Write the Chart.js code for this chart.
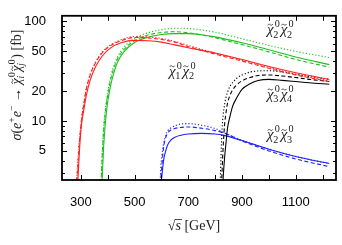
<!DOCTYPE html>
<html>
<head>
<meta charset="utf-8">
<script src="https://cdn.jsdelivr.net/npm/chart.js@4.4.0/dist/chart.umd.min.js"></script>
<style>
html, body { margin: 0; padding: 0; background: #fff; }
canvas { display: block; }
</style>
</head>
<body>
<canvas id="chart" width="342" height="245"></canvas>
<script>
// sqrt(s) in GeV, cross sections in fb: solid, dashed, dotted per channel
var redX = [285, 290, 295, 300, 305, 310, 320, 335, 355, 380, 410, 450, 500, 550, 600, 650, 700, 800, 900, 1000, 1100, 1225];
var redSolid = [1.6, 2.8, 5.0, 7.8, 10.3, 12.3, 17.8, 25.8, 35, 45, 54, 61, 64.5, 64, 62, 58.2, 54.5, 48.2, 41.5, 35.2, 30.5, 26.2];
var redDashed = [2.5, 4.0, 6.2, 8.7, 11.5, 14, 20.5, 29, 38.5, 48.5, 57, 64, 69, 68.2, 66, 62, 56, 47, 40, 33.8, 29, 24.8];
var redDotted = [2.6, 4.3, 6.5, 9.0, 12, 14.5, 21, 29.5, 39, 49.5, 58, 65.5, 70.5, 70, 67.5, 63, 57.5, 48, 40.8, 34.5, 29.5, 25.3];

var greenX = [372, 376, 380, 385, 390, 395, 400, 410, 420, 435, 460, 500, 550, 600, 650, 700, 750, 800, 900, 1000, 1100, 1225];
var greenSolid = [0.8, 1.5, 2.8, 5.5, 8.5, 12, 15.5, 22, 28.5, 38, 49.5, 61.5, 69.5, 74, 75.5, 75.5, 73.5, 70, 61, 52, 44, 36.8];
var greenDashed = [1.3, 2.5, 4.5, 8, 11.3, 14.8, 18, 25.3, 32, 41, 52, 64, 73, 77.5, 79, 77, 73, 68.5, 58.5, 49.5, 41.5, 34.7];
var greenDotted = [1.5, 2.7, 4.8, 8.5, 12, 15.8, 19.2, 27, 34, 43, 55, 67.5, 77, 82.5, 85.5, 85, 82, 78, 67, 57.5, 50, 43.4];

var blackX = [818, 822, 826, 830, 835, 840, 846, 855, 865, 880, 900, 930, 960, 1000, 1050, 1100, 1150, 1225];
var blackSolid = [0.5, 0.9, 1.6, 2.7, 4.2, 5.8, 8.4, 11, 14, 17, 20.8, 23.6, 25.5, 26.2, 25.6, 24.9, 24.2, 23.4];
var blackDashed = [0.8, 1.8, 3.2, 5.5, 9, 11.8, 15, 18, 20.5, 23, 25.3, 27.3, 28.6, 29, 28.3, 27.3, 26.2, 24.9];
var blackDotted = [2.0, 4.5, 8.5, 11.5, 14.5, 17, 19.3, 22.2, 24.3, 26.8, 28.9, 31, 31.8, 32, 31, 29.5, 28, 26.2];

var blueX = [594, 598, 602, 606, 610, 616, 624, 635, 650, 670, 700, 750, 800, 830, 900, 1000, 1100, 1225];
var blueSolid = [1.0, 2.2, 2.8, 3.6, 4.3, 5.0, 5.8, 6.4, 6.85, 7.15, 7.4, 7.5, 7.4, 7.2, 6.35, 5.2, 4.4, 3.73];
var blueDashed = [1.5, 2.6, 3.6, 4.8, 5.8, 6.8, 7.6, 8.1, 8.4, 8.6, 8.7, 8.45, 8.0, 7.6, 6.3, 5.0, 4.15, 3.47];
var blueDotted = [2.0, 3.5, 4.5, 5.5, 6.3, 7.2, 8.0, 8.5, 8.9, 9.3, 9.4, 9.05, 8.4, 7.7, 6.4, 5.2, 4.4, 3.73];

var xLabels = [300, 500, 700, 900, 1100];
var xTickMarks = [300, 400, 500, 600, 700, 800, 900, 1000, 1100, 1200];
var yLabels = [5, 10, 20, 50, 100];
var yMinorMarks = [3, 4, 6, 7, 8, 9, 30, 40, 60, 70, 80, 90];

// channel labels: [first index, second index, sqrt(s), sigma] (left edge, baseline)
var channelLabels = [
    ["2", "2", 993, 74.8],
    ["1", "2", 628, 28.6],
    ["3", "4", 993, 16.7],
    ["2", "3", 993, 6.54]
];

var serif = '"Liberation Serif", "DejaVu Serif", serif';
var RED = "#ff2020", GREEN = "#1fbf1f", BLACK = "#000000", BLUE = "#2020ff";

function pts(xs, ys) {
    var out = [];
    for (var i = 0; i < xs.length; i++) out.push({ x: xs[i], y: ys[i] });
    return out;
}

function series(xs, ys, color, dash) {
    return {
        data: pts(xs, ys),
        borderColor: color,
        borderWidth: 1.1,
        borderDash: dash,
        pointRadius: 0,
        fill: false,
        cubicInterpolationMode: "monotone",
        clip: 0
    };
}

var DASH = [4, 2.5];
var DOT = [1.2, 2];

function fnt(size, italic) {
    return (italic ? "italic " : "") + size + "px " + serif;
}

function tilde(ctx, cx, cy, w) {
    ctx.save();
    ctx.lineWidth = 0.8;
    ctx.strokeStyle = ctx.fillStyle;
    ctx.beginPath();
    ctx.moveTo(cx - w / 2, cy + 0.6);
    ctx.bezierCurveTo(cx - w / 4, cy - 1.4, cx - w / 8, cy - 0.3, cx, cy);
    ctx.bezierCurveTo(cx + w / 8, cy + 0.3, cx + w / 4, cy + 1.4, cx + w / 2, cy - 0.6);
    ctx.stroke();
    ctx.restore();
}

function drawRich(ctx, parts, x, y, size, draw) {
    var cx = x;
    parts.forEach(function(p) {
        if (p.chi) {
            ctx.font = fnt(size, true);
            var wc = ctx.measureText("χ").width;
            ctx.font = fnt(size * 0.68, false);
            var w0 = ctx.measureText("0").width;
            ctx.font = fnt(size * 0.68, p.subIt);
            var wi = ctx.measureText(p.chi).width;
            if (draw) {
                ctx.font = fnt(size, true);
                ctx.fillText("χ", cx, y);
                tilde(ctx, cx + wc * 0.5, y - size * 0.62, size * 0.34);
                ctx.font = fnt(size * 0.68, false);
                ctx.fillText("0", cx + wc + 1.2, y - size * 0.46);
                ctx.font = fnt(size * 0.68, p.subIt);
                ctx.fillText(p.chi, cx + wc - 0.3, y + size * 0.24);
            }
            cx += wc + Math.max(w0 + 1.2, wi) + 0.8;
        } else {
            var sz = p.sup ? size * 0.7 : size;
            ctx.font = fnt(sz, p.it);
            var w = ctx.measureText(p.t).width;
            if (draw) {
                ctx.fillText(p.t, cx, y + (p.sup ? -size * 0.42 : 0));
                if (p.over) {
                    ctx.fillRect(cx - 0.5, y - size * 0.78, w + 1.5, 0.8);
                }
            }
            cx += w;
        }
    });
    return cx - x;
}

var yTitle = [
    { t: "σ", it: true }, { t: "(" }, { t: "e", it: true }, { t: "+", sup: true },
    { t: "e", it: true }, { t: "−", sup: true }, { t: " → " },
    { chi: "i", subIt: true }, { chi: "j", subIt: true }, { t: ")" }, { t: " [fb]" }
];
var xTitle = [{ t: "√" }, { t: "s", it: true, over: true }, { t: " [GeV]" }];

var framePlugin = {
    id: "frame",
    afterDraw: function(chart) {
        var ctx = chart.ctx;
        var a = chart.chartArea;
        var xs = chart.scales.x, ys = chart.scales.y;
        ctx.save();
        ctx.strokeStyle = "#000";
        ctx.lineWidth = 1;
        ctx.beginPath();
        xTickMarks.forEach(function(v) {
            var px = Math.round(xs.getPixelForValue(v)) + 0.5;
            ctx.moveTo(px, a.bottom); ctx.lineTo(px, a.bottom - 5);
            ctx.moveTo(px, a.top); ctx.lineTo(px, a.top + 5);
        });
        yLabels.forEach(function(v) {
            var py = Math.round(ys.getPixelForValue(v)) + 0.5;
            ctx.moveTo(a.left, py); ctx.lineTo(a.left + 5, py);
            ctx.moveTo(a.right, py); ctx.lineTo(a.right - 5, py);
        });
        yMinorMarks.forEach(function(v) {
            var py = Math.round(ys.getPixelForValue(v)) + 0.5;
            ctx.moveTo(a.left, py); ctx.lineTo(a.left + 3, py);
            ctx.moveTo(a.right, py); ctx.lineTo(a.right - 3, py);
        });
        ctx.stroke();

        ctx.lineWidth = 1.8;
        ctx.strokeRect(a.left, a.top, a.right - a.left, a.bottom - a.top);

        ctx.fillStyle = "#222";
        ctx.textAlign = "left";
        ctx.textBaseline = "alphabetic";
        channelLabels.forEach(function(l) {
            var lx = xs.getPixelForValue(l[2]);
            var ly = ys.getPixelForValue(l[3]);
            drawRich(ctx, [{ chi: l[0] }, { chi: l[1] }], lx, ly, 15, true);
        });

        var wx = drawRich(ctx, xTitle, 0, 0, 14, false);
        drawRich(ctx, xTitle, 194 - wx / 2, 230, 14, true);

        var wy = drawRich(ctx, yTitle, 0, 0, 14, false);
        ctx.translate(21, 85);
        ctx.rotate(-Math.PI / 2);
        drawRich(ctx, yTitle, -wy / 2, 0, 14, true);
        ctx.restore();
    }
};

new Chart(document.getElementById("chart"), {
    type: "line",
    data: {
        datasets: [
            series(redX, redSolid, RED, []),
            series(redX, redDashed, RED, DASH),
            series(redX, redDotted, RED, DOT),
            series(greenX, greenSolid, GREEN, []),
            series(greenX, greenDashed, GREEN, DASH),
            series(greenX, greenDotted, GREEN, DOT),
            series(blackX, blackSolid, BLACK, []),
            series(blackX, blackDashed, BLACK, DASH),
            series(blackX, blackDotted, BLACK, DOT),
            series(blueX, blueSolid, BLUE, []),
            series(blueX, blueDashed, BLUE, DASH),
            series(blueX, blueDotted, BLUE, DOT)
        ]
    },
    options: {
        responsive: false,
        animation: false,
        devicePixelRatio: 1,
        layout: { padding: { top: 10, right: 6, left: 0, bottom: 0 } },
        plugins: { legend: { display: false }, tooltip: { enabled: false } },
        scales: {
            x: {
                type: "linear",
                min: 230,
                max: 1250,
                grid: { display: false },
                border: { display: false },
                afterBuildTicks: function(s) {
                    s.ticks = xLabels.map(function(v) { return { value: v }; });
                },
                afterFit: function(s) { s.height = 65; },
                ticks: {
                    padding: 7,
                    maxRotation: 0,
                    color: "#000",
                    font: { family: '"Liberation Sans", Arial, sans-serif', size: 13 },
                    callback: function(v) { return String(v); }
                }
            },
            y: {
                type: "logarithmic",
                min: 2.55,
                max: 114,
                grid: { display: false },
                border: { display: false },
                afterBuildTicks: function(s) {
                    s.ticks = yLabels.map(function(v) { return { value: v }; });
                },
                afterFit: function(s) { s.width = 62; },
                ticks: {
                    padding: 8,
                    color: "#000",
                    font: { family: '"Liberation Sans", Arial, sans-serif', size: 13 },
                    callback: function(v) { return String(v); }
                }
            }
        }
    },
    plugins: [framePlugin]
});
</script>
</body>
</html>
